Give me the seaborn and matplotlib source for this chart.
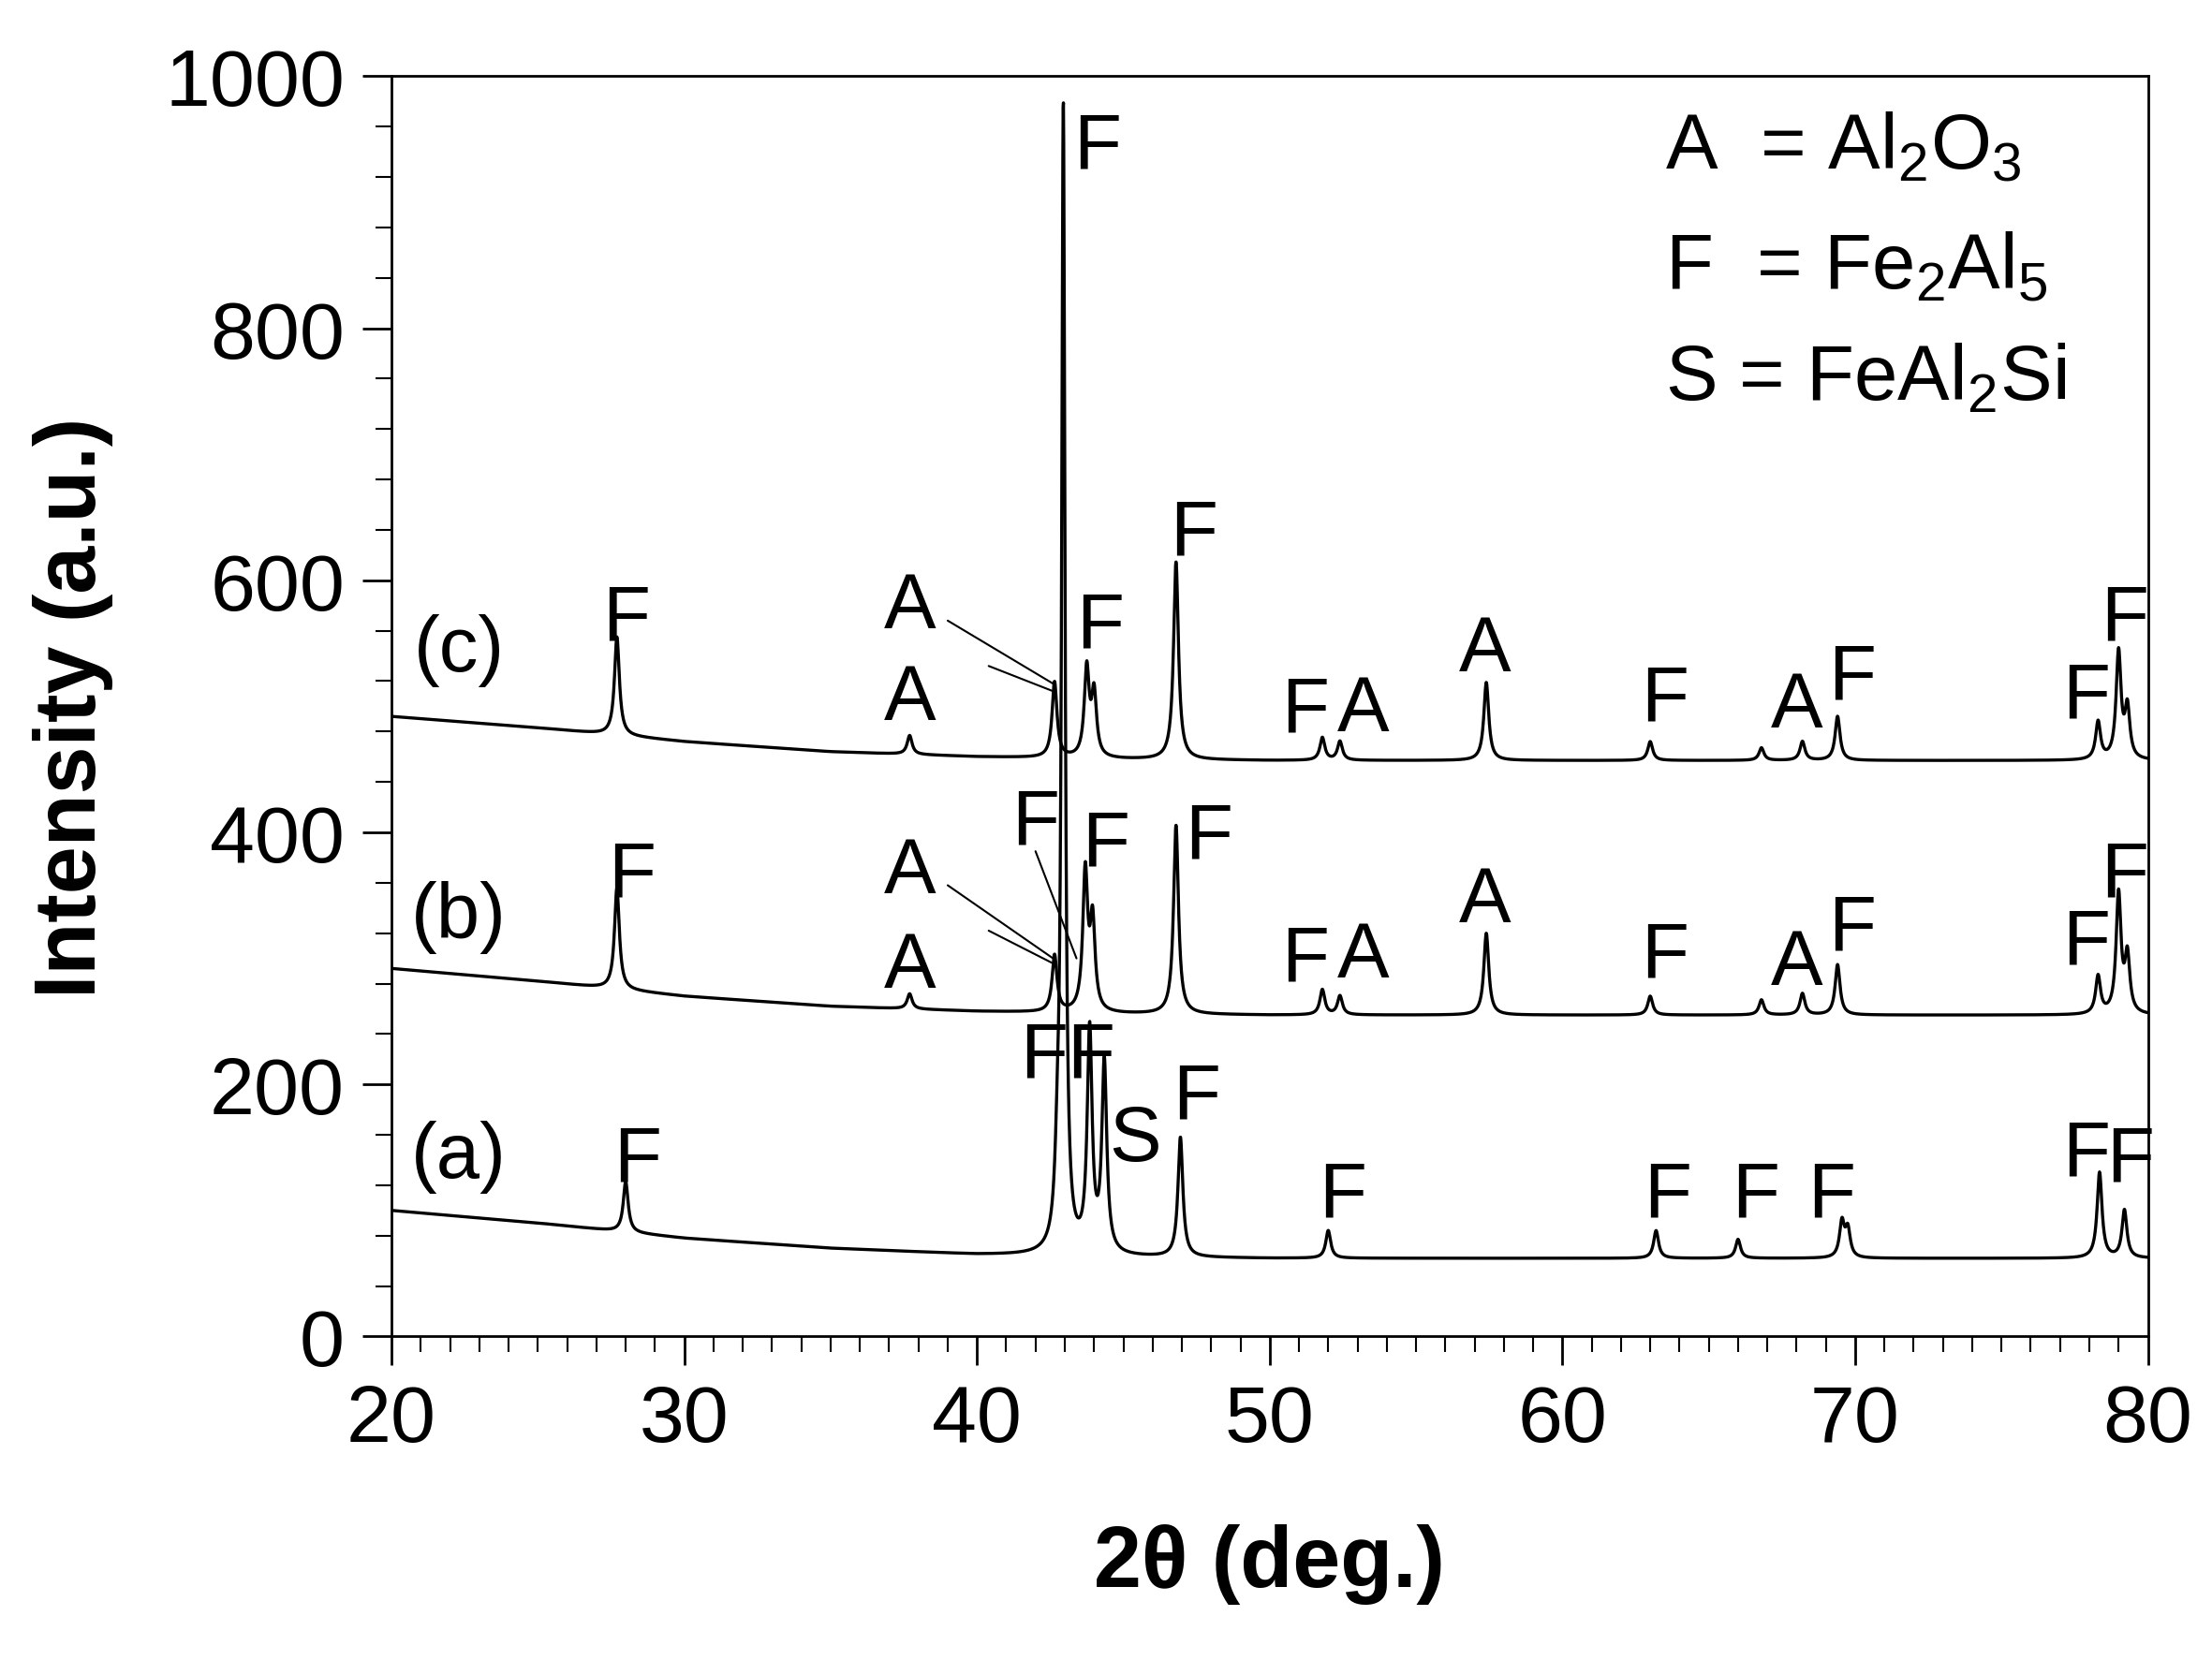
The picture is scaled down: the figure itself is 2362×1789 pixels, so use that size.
import numpy as np
import pandas as pd
import matplotlib
matplotlib.use("Agg")
import matplotlib.pyplot as plt
import seaborn as sns

sns.set_style("ticks")
plt.rcParams['font.family'] = ['Liberation Sans', 'DejaVu Sans']
plt.rcParams['mathtext.default'] = 'regular'
plt.rcParams['text.color'] = 'black'
plt.rcParams['xtick.color'] = 'black'
plt.rcParams['ytick.color'] = 'black'
plt.rcParams['axes.labelcolor'] = 'black'
plt.rcParams['axes.edgecolor'] = 'black'

# baseline anchors (2theta, intensity) for each pattern
base_x = [20, 25, 30, 35, 40, 45, 50, 60, 70, 80]
base_a = [100, 90, 78, 70, 65, 63, 62, 62, 62, 62]
base_b = [292, 282, 270, 262, 258, 256, 255, 255, 255, 255]
base_c = [492, 483, 472, 464, 460, 458, 457, 457, 457, 457]

# peaks: position, height above baseline
peaks_a_pos = [28.0, 42.75, 42.95, 43.85, 44.35, 46.95, 52.0, 63.2, 66.0, 69.55, 69.75, 78.35, 79.2]
peaks_a_h = [40, 50, 905, 175, 150, 95, 22, 22, 15, 28, 22, 68, 38]
peaks_b_pos = [27.7, 37.7, 42.65, 43.7, 43.95, 46.8, 51.8, 52.4, 57.4, 63.0, 66.8, 68.2, 69.4, 78.3, 79.0, 79.3]
peaks_b_h = [80, 12, 45, 110, 70, 150, 20, 15, 65, 15, 12, 17, 40, 30, 95, 45]
peaks_c_pos = [27.7, 37.7, 42.65, 43.75, 44.0, 46.8, 51.8, 52.4, 57.4, 63.0, 66.8, 68.2, 69.4, 78.3, 79.0, 79.3]
peaks_c_h = [78, 15, 60, 70, 50, 157, 18, 15, 62, 15, 10, 15, 35, 30, 85, 40]

# annotation labels (x, y, text)
labels_x = [22.3, 28.0, 37.7, 37.7, 44.2, 44.1, 47.4, 51.2, 53.2, 57.35, 63.5, 68.0, 69.9, 77.9, 79.2,
            22.3, 28.2, 37.7, 37.7, 42.0, 44.4, 47.9, 51.2, 53.2, 57.35, 63.5, 68.0, 69.9, 77.9, 79.2,
            22.3, 28.4, 42.3, 43.9, 45.4, 47.5, 52.5, 63.6, 66.6, 69.2, 77.9, 79.4]
labels_y = [545, 570, 579, 506, 564, 944, 637, 497, 497, 545, 506, 500, 523, 508, 570,
            333, 366, 369, 294, 408, 391, 397, 299, 302, 346, 302, 296, 324, 313, 366,
            143, 140, 223, 223, 156, 190, 112, 112, 112, 112, 145, 140]
labels_t = ['(c)', 'F', 'A', 'A', 'F', 'F', 'F', 'F', 'A', 'A', 'F', 'A', 'F', 'F', 'F',
            '(b)', 'F', 'A', 'A', 'F', 'F', 'F', 'F', 'A', 'A', 'F', 'A', 'F', 'F', 'F',
            '(a)', 'F', 'F', 'F', 'S', 'F', 'F', 'F', 'F', 'F', 'F', 'F']

# pointer lines (x0, y0, x1, y1)
pointers = [(39.0, 568, 42.6, 518), (40.4, 532, 42.6, 512),
            (39.0, 358, 42.6, 300), (40.4, 322, 42.6, 296), (42.0, 385, 43.4, 300)]

legend_lines = ['A  = Al$_2$O$_3$', 'F  = Fe$_2$Al$_5$', 'S = FeAl$_2$Si']
legend_y = [944, 849, 760]

x = np.linspace(20, 80, 6000)


def pattern(base, pos, h):
    y = np.interp(x, base_x, base)
    for p, hh in zip(pos, h):
        w = 0.07 if hh > 500 else 0.1
        y = y + hh / (1 + ((x - p) / w) ** 2)
    return y


frames = []
for name, b, p, h in [('a', base_a, peaks_a_pos, peaks_a_h),
                      ('b', base_b, peaks_b_pos, peaks_b_h),
                      ('c', base_c, peaks_c_pos, peaks_c_h)]:
    frames.append(pd.DataFrame({'x': x, 'y': pattern(b, p, h), 's': name}))
df = pd.concat(frames)

fig = plt.figure(figsize=(23.62, 17.90), dpi=100)
ax = fig.add_axes([0.177, 0.202, 0.794, 0.752])
sns.lineplot(data=df, x='x', y='y', units='s', estimator=None, sort=False,
             color='black', linewidth=2.4, ax=ax, legend=False)

for xi, yi, t in zip(labels_x, labels_y, labels_t):
    ax.text(xi, yi, t, ha='center', va='center', fontsize=60)
for x0, y0, x1, y1 in pointers:
    ax.plot([x0, x1], [y0, y1], color='black', linewidth=1.5)
for t, yy in zip(legend_lines, legend_y):
    ax.text(63.5, yy, t, ha='left', va='center', fontsize=60)

ax.set_xlim(20, 80)
ax.set_ylim(0, 1000)
ax.set_xticks(np.arange(20, 81, 10))
ax.set_yticks(np.arange(0, 1001, 200))
ax.set_xticks(np.arange(20, 81, 1), minor=True)
ax.set_yticks(np.arange(0, 1001, 40), minor=True)
ax.tick_params(which='major', direction='out', length=22, width=2, labelsize=62, pad=14)
ax.tick_params(which='minor', direction='out', length=12, width=1.5)
for s in ax.spines.values():
    s.set_linewidth(2)
ax.set_xlabel('2θ (deg.)', fontsize=66, fontweight='bold', labelpad=50)
ax.set_ylabel('Intensity (a.u.)', fontsize=66, fontweight='bold', labelpad=40)

fig.savefig('out.png', dpi=100)
